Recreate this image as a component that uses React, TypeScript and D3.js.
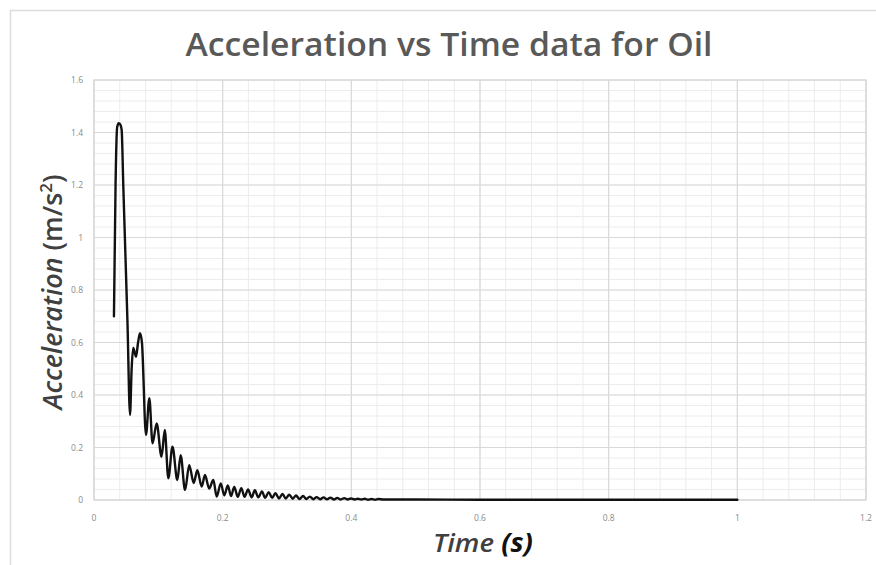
import React from "react";
import * as d3 from "d3";

const timeValues: number[] = [
  0.031, 0.0335, 0.036, 0.0385, 0.041, 0.043, 0.0455, 0.048, 0.052, 0.056,
  0.0585, 0.061, 0.0653, 0.0685, 0.0715, 0.0745, 0.0808, 0.086, 0.091, 0.0974,
  0.105, 0.11, 0.1155, 0.122, 0.1295, 0.1347, 0.1415, 0.148, 0.155, 0.1606,
  0.1674, 0.1725, 0.179, 0.1855, 0.1907, 0.197, 0.2025, 0.208, 0.213, 0.218,
  0.2235, 0.229, 0.234, 0.2395, 0.245, 0.25, 0.2555, 0.261, 0.266, 0.2715,
  0.277, 0.282, 0.2875, 0.293, 0.298, 0.3035, 0.309, 0.314, 0.3195, 0.325,
  0.33, 0.3355, 0.341, 0.346, 0.3515, 0.357, 0.362, 0.3675, 0.373, 0.378,
  0.3835, 0.389, 0.394, 0.3995, 0.405, 0.41, 0.4155, 0.421, 0.426, 0.4315,
  0.437, 0.442, 0.45, 0.5, 0.6, 0.8, 1.0,
];

const accelValues: number[] = [
  0.7, 1.2, 1.42, 1.435, 1.43, 1.41, 1.2, 1.0, 0.68, 0.324,
  0.5, 0.579, 0.546, 0.6, 0.635, 0.6, 0.248, 0.388, 0.216, 0.292,
  0.165, 0.267, 0.083, 0.203, 0.076, 0.171, 0.038, 0.133, 0.065, 0.114,
  0.051, 0.095, 0.044, 0.076, 0.013, 0.063, 0.018, 0.055, 0.015, 0.05,
  0.012, 0.045, 0.012, 0.04, 0.01, 0.037, 0.01, 0.033, 0.008, 0.03,
  0.008, 0.026, 0.006, 0.023, 0.006, 0.02, 0.005, 0.017, 0.004, 0.015,
  0.004, 0.013, 0.003, 0.011, 0.003, 0.01, 0.003, 0.009, 0.002, 0.008,
  0.002, 0.007, 0.002, 0.006, 0.002, 0.005, 0.002, 0.005, 0.001, 0.004,
  0.001, 0.004, 0.002, 0.002, 0.001, 0.001, 0.001,
];

const xTickValues: number[] = [0, 0.2, 0.4, 0.6, 0.8, 1, 1.2];
const xTickLabels: string[] = ["0", "0.2", "0.4", "0.6", "0.8", "1", "1.2"];
const yTickValues: number[] = [0, 0.2, 0.4, 0.6, 0.8, 1, 1.2, 1.4, 1.6];
const yTickLabels: string[] = ["0", "0.2", "0.4", "0.6", "0.8", "1", "1.2", "1.4", "1.6"];

const titleText = "Acceleration vs Time data for Oil";

const W = 876;
const H = 565;
const left = 94;
const right = 866;
const top = 80;
const bottom = 500;

export default function App() {
  const x = d3.scaleLinear().domain([0, 1.2]).range([left, right]);
  const y = d3.scaleLinear().domain([0, 1.6]).range([bottom, top]);

  const minorX = d3.range(0, 1.2001, 0.04);
  const minorY = d3.range(0, 1.6001, 0.04);

  const pts: [number, number][] = timeValues.map((t, i) => [t, accelValues[i]]);
  const line = d3
    .line<[number, number]>()
    .x((d) => x(d[0]))
    .y((d) => y(d[1]))
    .curve(d3.curveMonotoneX);

  const tickFont = "'Open Sans', 'Noto Sans', sans-serif";

  return (
    <svg
      width={W}
      height={H}
      style={{ position: "absolute", left: 0, top: 0, background: "#fff" }}
    >
      <rect x={0} y={0} width={W} height={H} fill="#fff" />
      {/* outer chart border */}
      <line x1={10} y1={10.5} x2={W} y2={10.5} stroke="#dcdcdc" strokeWidth={1.5} />
      <line x1={10.5} y1={10} x2={10.5} y2={H} stroke="#dcdcdc" strokeWidth={1.5} />

      {/* minor grid */}
      {minorX.map((v, i) => (
        <line key={"mx" + i} x1={x(v)} x2={x(v)} y1={top} y2={bottom} stroke="#ececec" strokeWidth={1} />
      ))}
      {minorY.map((v, i) => (
        <line key={"my" + i} x1={left} x2={right} y1={y(v)} y2={y(v)} stroke="#ececec" strokeWidth={1} />
      ))}
      {/* major grid */}
      {xTickValues.map((v, i) => (
        <line key={"Mx" + i} x1={x(v)} x2={x(v)} y1={top} y2={bottom} stroke="#d9d9d9" strokeWidth={1.2} />
      ))}
      {yTickValues.map((v, i) => (
        <line key={"My" + i} x1={left} x2={right} y1={y(v)} y2={y(v)} stroke="#d9d9d9" strokeWidth={1.2} />
      ))}
      <rect x={left} y={top} width={right - left} height={bottom - top} fill="none" stroke="#d9d9d9" strokeWidth={1.2} />

      {/* tick labels */}
      {xTickValues.map((v, i) => (
        <text key={"xt" + i} x={x(v)} y={521} textAnchor="middle" fontSize={8.5} fill="#8a8a8a" fontFamily={tickFont}>
          {xTickLabels[i]}
        </text>
      ))}
      {yTickValues.map((v, i) => (
        <text key={"yt" + i} x={83} y={y(v) + 3} textAnchor="end" fontSize={8.5} fill="#8a8a8a" fontFamily={tickFont}>
          {yTickLabels[i]}
        </text>
      ))}

      {/* data line */}
      <path d={line(pts) || ""} fill="none" stroke="#111" strokeWidth={2.4} strokeLinejoin="round" strokeLinecap="round" />

      {/* title */}
      <text
        x={449}
        y={56}
        textAnchor="middle"
        fontSize={32}
        fontWeight={600}
        fill="#595959"
        fontFamily="'Open Sans', 'Noto Sans', sans-serif"
        textLength={527}
        lengthAdjust="spacingAndGlyphs"
      >
        {titleText}
      </text>

      {/* y axis title */}
      <text
        transform="translate(62,292) rotate(-90)"
        textAnchor="middle"
        fontSize={27}
        fontWeight={600}
        fill="#404040"
        fontFamily="'Open Sans', 'Noto Sans', sans-serif"
        textLength={235}
        lengthAdjust="spacingAndGlyphs"
      >
        <tspan fontStyle="italic">Acceleration</tspan>
        <tspan> (m/s</tspan>
        <tspan fontSize={17} dy={-10}>2</tspan>
        <tspan dy={10}>)</tspan>
      </text>

      {/* x axis title */}
      <text
        x={483}
        y={552}
        textAnchor="middle"
        fontSize={26}
        fontWeight={600}
        fontStyle="italic"
        fill="#404040"
        fontFamily="'Open Sans', 'Noto Sans', sans-serif"
        textLength={100}
        lengthAdjust="spacingAndGlyphs"
      >
        <tspan>Time </tspan>
        <tspan fontWeight={700} fill="#111">(s)</tspan>
      </text>
    </svg>
  );
}
